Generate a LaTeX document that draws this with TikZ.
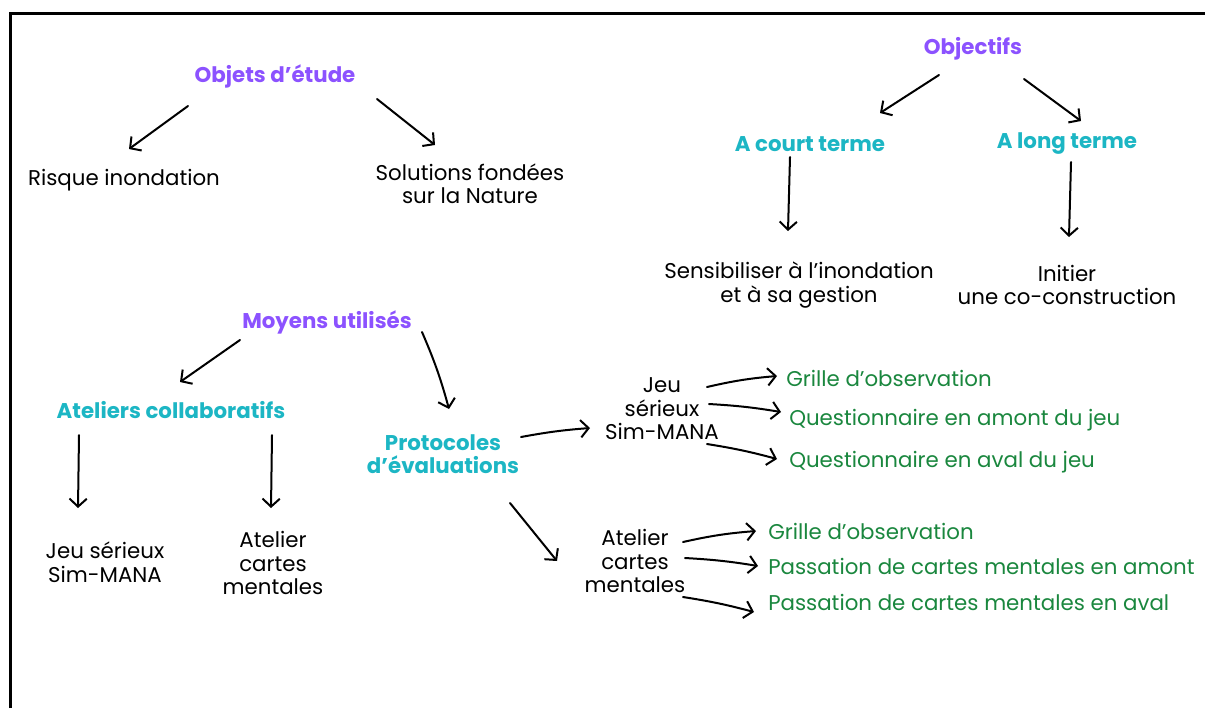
\documentclass[tikz,border=0pt]{standalone}
\usepackage{fontspec}
\setmainfont{Poppins}
\usetikzlibrary{arrows.meta}
\definecolor{purp}{RGB}{140,82,255}
\definecolor{cyn}{RGB}{28,182,196}
\definecolor{grn}{RGB}{26,135,62}
\begin{document}
\begin{tikzpicture}[x=0.75pt,y=-0.75pt,
  txt/.style={inner sep=0pt,align=center,font=\fontsize{16pt}{17.6pt}\selectfont,text=black},
  ttl/.style={txt,font=\bfseries\fontsize{16pt}{17.6pt}\selectfont,text=purp},
  sub/.style={ttl,text=cyn},
  leaf/.style={txt,text=grn,anchor=west},
  arr/.style={line width=1.5pt,line cap=round,-{Straight Barb[length=6pt,width=13pt,line width=1.5pt]}}]
\useasboundingbox (0,0) rectangle (1205,708);
\fill[white] (0,0) rectangle (1205,708);
\draw[line width=1.6pt] (10.5,708) -- (10.5,13.5) -- (1205,13.5);
% top left
\node[ttl] (objets) at (275,76) {Objets d'étude};
\node[txt] (risque) at (124,180) {Risque inondation};
\node[txt] (solutions) at (470,184) {Solutions fondées\\sur la Nature};
% top right
\node[ttl] (objectifs) at (973,49) {Objectifs};
\node[sub] (court) at (810,144) {A court terme};
\node[sub] (long) at (1067,144) {A long terme};
\node[txt] (sensib) at (799,285) {Sensibiliser à l'inondation\\et à sa gestion};
\node[txt] (initier) at (1067,285) {Initier\\une co-construction};
% bottom
\node[ttl] (moyens) at (327,322) {Moyens utilisés};
\node[sub] (ateliers) at (171,410) {Ateliers collaboratifs};
\node[sub] (protocoles) at (443,454) {Protocoles\\d'évaluations};
\node[txt] (jeu2) at (105,562) {Jeu sérieux\\Sim-MANA};
\node[txt] (atelier2) at (273,563) {Atelier\\cartes\\mentales};
\node[txt] (jeu) at (662,409) {Jeu\\sérieux\\Sim-MANA};
\node[leaf] (g1) at (786,378) {Grille d'observation};
\node[leaf] (q1) at (789,420) {Questionnaire en amont du jeu};
\node[leaf] (q2) at (789,462) {Questionnaire en aval du jeu};
\node[txt] (atelier3) at (635,561) {Atelier\\cartes\\mentales};
\node[leaf] (g2) at (768,531) {Grille d'observation};
\node[leaf] (p1) at (768,566) {Passation de cartes mentales en amont};
\node[leaf] (p2) at (768,602) {Passation de cartes mentales en aval};
% arrows
\draw[arr] ([shift={(-87,30)}]objets.center) -- ([shift={(5,-31)}]risque.center);
\draw[arr] ([shift={(102,23)}]objets.center) -- ([shift={(-35,-39)}]solutions.center);
\draw[arr] ([shift={(-34,26)}]objectifs.center) -- ([shift={(70,-31)}]court.center);
\draw[arr] ([shift={(51,30)}]objectifs.center) -- ([shift={(14,-23)}]long.center);
\draw[arr] ([shift={(-20,13)}]court.center) -- ([shift={(-11,-54)}]sensib.center);
\draw[arr] ([shift={(4,18)}]long.center) -- ([shift={(2,-48)}]initier.center);
\draw[arr] ([shift={(-87,18)}]moyens.center) -- ([shift={(9,-28)}]ateliers.center);
\draw[arr] ([shift={(95,10)}]moyens.center) to[bend left=4] ([shift={(6,-45)}]protocoles.center);
\draw[arr] ([shift={(-92,25)}]ateliers.center) -- ([shift={(-27,-54)}]jeu2.center);
\draw[arr] ([shift={(101,25)}]ateliers.center) -- ([shift={(-2,-55)}]atelier2.center);
\draw[arr] ([shift={(78,-17)}]protocoles.center) to[bend left=3] ([shift={(-72,19)}]jeu.center);
\draw[arr] ([shift={(45,-22)}]jeu.center) to[bend left=4] ([shift={(-9,-2)}]g1.west);
\draw[arr] ([shift={(47,-5)}]jeu.center) to[bend left=3] ([shift={(-8,-8)}]q1.west);
\draw[arr] ([shift={(45,35)}]jeu.center) to[bend left=3] ([shift={(-12,-3)}]q2.west);
\draw[arr] ([shift={(67,49)}]protocoles.center) -- ([shift={(-78,0)}]atelier3.center);
\draw[arr] ([shift={(48,-19)}]atelier3.center) to[bend left=4] ([shift={(-12,0)}]g2.west);
\draw[arr] ([shift={(50,-3)}]atelier3.center) to[bend left=3] ([shift={(-10,0)}]p1.west);
\draw[arr] ([shift={(48,36)}]atelier3.center) to[bend left=3] ([shift={(-14,10)}]p2.west);
\end{tikzpicture}
\end{document}
